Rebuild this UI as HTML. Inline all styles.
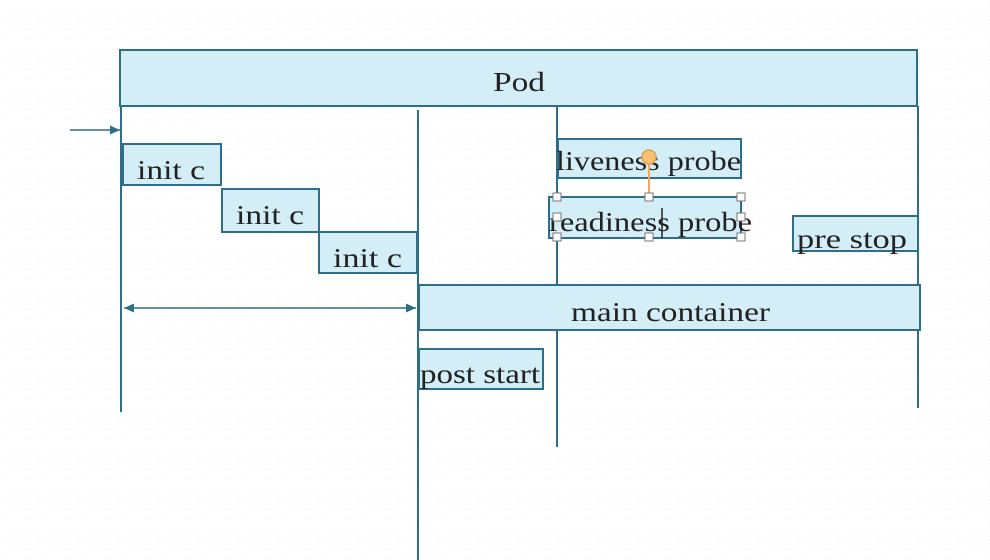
<!DOCTYPE html>
<html><head><style>body{margin:0;background:#fff}svg{display:block}</style></head><body>
<svg width="990" height="560" viewBox="0 0 990 560" xmlns="http://www.w3.org/2000/svg">
<defs>
<pattern id="g" width="10" height="10" patternUnits="userSpaceOnUse"><path d="M10 0V10H0" fill="none" stroke="#f0f0f0" stroke-width="1" stroke-dasharray="1,2"/></pattern>
<marker id="a" markerUnits="userSpaceOnUse" markerWidth="10" markerHeight="10" refX="10" refY="5" orient="auto"><path d="M0,0.5L10,5L0,9.5z" fill="#2e6e86"/></marker>
<marker id="b" markerUnits="userSpaceOnUse" markerWidth="10" markerHeight="10" refX="0" refY="5" orient="auto"><path d="M10,0.5L0,5L10,9.5z" fill="#2e6e86"/></marker>
</defs>
<rect width="990" height="560" fill="url(#g)"/>
<g stroke="#2e6e86" stroke-width="2" fill="#d4eef7">
<rect x="120" y="50" width="797" height="56"/>
<line x1="121" y1="106" x2="121" y2="412"/>
<line x1="418" y1="110" x2="418" y2="560"/>
<line x1="557" y1="106" x2="557" y2="447"/>
<line x1="918" y1="106" x2="918" y2="408"/>
<rect x="123" y="144" width="98" height="41"/>
<rect x="222" y="189" width="97" height="43"/>
<rect x="319" y="232" width="98" height="41"/>
<rect x="419" y="285" width="501" height="45"/>
<rect x="419" y="349" width="124" height="40"/>
<rect x="558" y="139" width="183" height="39"/>
<rect x="549" y="197" width="192" height="41"/>
<rect x="793" y="216" width="125" height="35"/>
</g>
<line x1="70" y1="130" x2="120" y2="130" stroke="#2e6e86" stroke-width="1.5" marker-end="url(#a)"/>
<line x1="124" y1="308" x2="416" y2="308" stroke="#2e6e86" stroke-width="1.5" marker-start="url(#b)" marker-end="url(#a)"/>
<g font-family="Liberation Serif, serif" font-size="27" fill="#222" lengthAdjust="spacingAndGlyphs">
<text x="493" y="91" textLength="52" lengthAdjust="spacingAndGlyphs">Pod</text>
<text x="137" y="179" textLength="68" lengthAdjust="spacingAndGlyphs">init c</text>
<text x="236" y="224" textLength="68" lengthAdjust="spacingAndGlyphs">init c</text>
<text x="333" y="267" textLength="69" lengthAdjust="spacingAndGlyphs">init c</text>
<text x="571" y="321" textLength="199" lengthAdjust="spacingAndGlyphs">main container</text>
<text x="420" y="383" textLength="120" lengthAdjust="spacingAndGlyphs">post start</text>
<text x="556" y="170" textLength="185" lengthAdjust="spacingAndGlyphs">liveness probe</text>
<text x="549" y="231" textLength="203" lengthAdjust="spacingAndGlyphs">readiness probe</text>
<text x="797" y="248" textLength="110" lengthAdjust="spacingAndGlyphs">pre stop</text>
</g>
<line x1="649" y1="160" x2="649" y2="197" stroke="#f0a860" stroke-width="2"/>
<circle cx="649" cy="157" r="7" fill="#f8c070" stroke="#e0a050" stroke-width="1.5"/>
<line x1="662" y1="208" x2="662" y2="238" stroke="#222" stroke-width="1.5"/>
<g fill="#fff" stroke="#777" stroke-width="1">
<rect x="553" y="193" width="8" height="8"/><rect x="645" y="193" width="8" height="8"/><rect x="737" y="193" width="8" height="8"/>
<rect x="553" y="213" width="8" height="8"/><rect x="737" y="213" width="8" height="8"/>
<rect x="553" y="233" width="8" height="8"/><rect x="645" y="233" width="8" height="8"/><rect x="737" y="233" width="8" height="8"/>
</g>
</svg>
</body></html>
